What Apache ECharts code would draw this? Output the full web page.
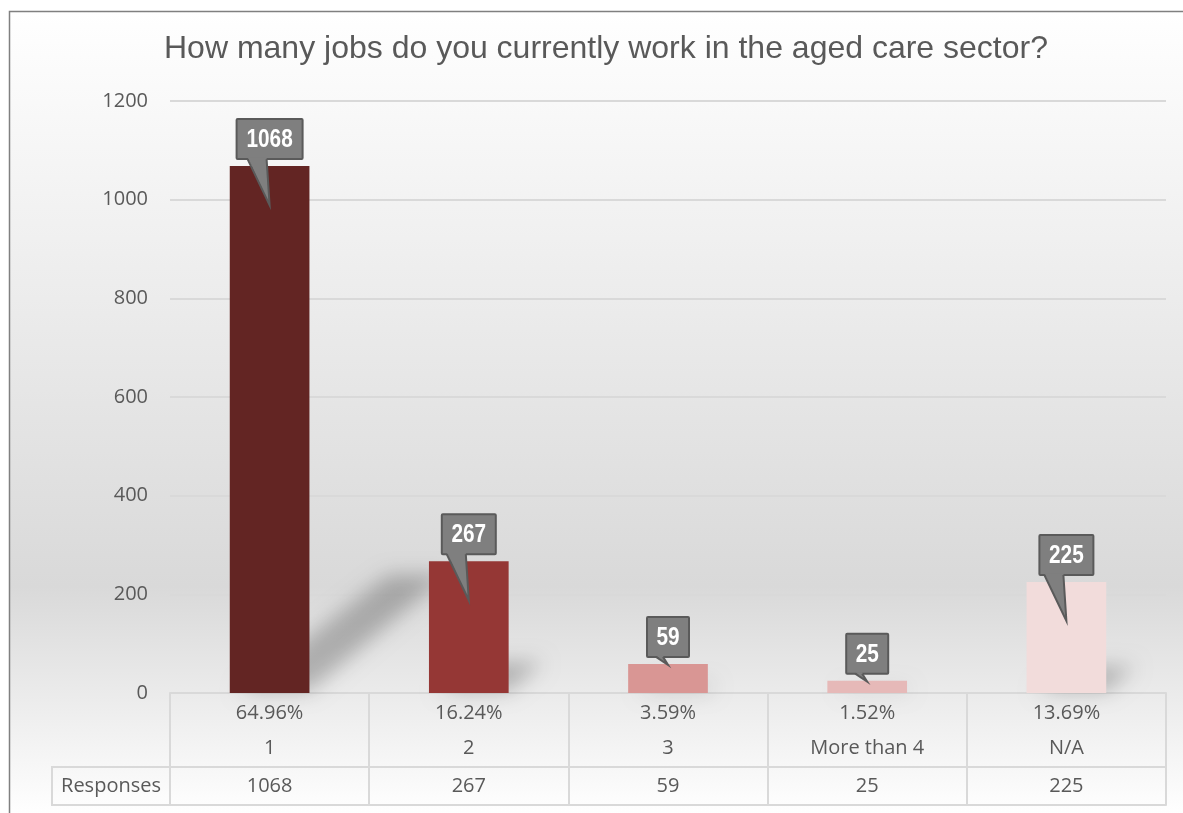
<!DOCTYPE html>
<html>
<head>
<meta charset="utf-8">
<script src="https://cdn.jsdelivr.net/npm/echarts@6/dist/echarts.min.js"></script>
<style>
html,body{margin:0;padding:0;background:#fff;}
#chart{width:1183px;height:813px;}
</style>
</head>
<body>
<div id="chart"></div>
<script>
// ---- data ----
const titleText = 'How many jobs do you currently work in the aged care sector?';
const categories = ['1', '2', '3', 'More than 4', 'N/A'];
const responses = [1068, 267, 59, 25, 225];
const percentLabels = ['64.96%', '16.24%', '3.59%', '1.52%', '13.69%'];
const rowLabel = 'Responses';
const yMin = 0, yMax = 1200, yInterval = 200;

// ---- styles ----
const barColors = ['#632523', '#953735', '#D99694', '#E6B9B8', '#F2DCDB'];
const textColor = '#595959';
const gridColor = '#d9d9d9';
const tableFont = '"Open Sans", "Noto Sans", sans-serif';
const calloutFont = 'bold 26px "Liberation Sans", Arial, sans-serif';

const chart = echarts.init(document.getElementById('chart'), null, {renderer: 'canvas'});

const OFF = 3000; // draw the shadow caster off-canvas, only its blurred shadow is visible
function shadowItem(params, api) {
  const idx = api.value(0), val = api.value(1);
  const top = api.coord([idx, val]);
  const base = api.coord([idx, 0]);
  const bw = api.size([1, 0])[0] * 0.4;
  const h = base[1] - top[1];
  const dx = h * 0.26, dy = h * 0.22;
  const x0 = top[0] - bw / 2 + 8, x1 = top[0] + bw / 2, y0 = base[1] - 2;
  return {
    type: 'polygon',
    shape: {points: [[x0 - OFF, y0], [x1 - OFF, y0], [x1 + dx - OFF, y0 - dy], [x0 + dx + 14 - OFF, y0 - dy]]},
    style: {
      fill: '#000',
      shadowBlur: 20,
      shadowOffsetX: OFF,
      shadowColor: 'rgba(0,0,0,0.24)'
    }
  };
}

function calloutItem(params, api) {
  const idx = api.value(0), val = api.value(1);
  const top = api.coord([idx, val]);
  const base = api.coord([idx, 0]);
  const h = base[1] - top[1];
  const cx = top[0];
  const label = String(val);
  const bwBox = 12 * label.length + 18;
  const bh = 40;
  const boxBottom = top[1] - 7;
  const boxTop = boxBottom - bh;
  const longTail = h > 60;
  const tipY = longTail ? top[1] + 39 : top[1] + 1;
  const bl = longTail ? cx - 22 : cx - 12;
  const br = longTail ? cx - 3 : cx - 5;
  return {
    type: 'group',
    children: [
      {
        type: 'rect',
        shape: {x: cx - bwBox / 2, y: boxTop, width: bwBox, height: bh, r: 1},
        style: {fill: '#7f7f7f', stroke: '#5a5a5a', lineWidth: 2}
      },
      {
        type: 'polygon',
        shape: {points: [[bl, boxBottom - 1.5], [br, boxBottom - 1.5], [cx, tipY]]},
        style: {fill: '#7f7f7f'}
      },
      {
        type: 'polyline',
        shape: {points: [[bl, boxBottom], [cx, tipY], [br, boxBottom]]},
        style: {fill: null, stroke: '#5a5a5a', lineWidth: 2}
      },
      {
        type: 'text',
        x: cx, y: boxTop + bh / 2 + 1,
        scaleX: 0.8,
        style: {
          text: label, x: 0, y: 0,
          align: 'center', verticalAlign: 'middle',
          fill: '#ffffff', font: calloutFont
        }
      }
    ]
  };
}

const option = {
  animation: false,
  backgroundColor: '#ffffff',
  title: {
    text: titleText,
    left: 601,
    textAlign: 'center',
    top: 28,
    textStyle: {color: textColor, fontSize: 32, fontWeight: 'normal', fontFamily: '"Liberation Sans", Arial, sans-serif'}
  },
  graphic: [
    {
      type: 'rect', z: -10, silent: true,
      shape: {x: 9.5, y: 11.5, width: 1200, height: 820},
      style: {
        fill: new echarts.graphic.LinearGradient(0, 0, 0, 1, [
          {offset: 0, color: '#ffffff'},
          {offset: 0.70, color: '#d9d9d9'},
          {offset: 0.98, color: '#ffffff'},
          {offset: 1, color: '#ffffff'}
        ]),
        stroke: '#808080', lineWidth: 1.5
      }
    },
    {
      type: 'rect', z: 5, silent: true,
      shape: {x: 52, y: 767, width: 118, height: 38},
      style: {fill: null, stroke: gridColor, lineWidth: 2}
    },
    {
      type: 'text', z: 5, silent: true,
      style: {text: rowLabel, x: 111, y: 786, align: 'center', verticalAlign: 'middle',
        fill: textColor, font: '20px ' + tableFont}
    }
  ],
  grid: {left: 170, right: 17, top: 101, bottom: 120, containLabel: false},
  xAxis: [
    {
      type: 'category', data: categories, position: 'bottom',
      axisLine: {show: true, lineStyle: {color: gridColor, width: 2}},
      axisTick: {show: true, interval: 0, length: 112, lineStyle: {color: gridColor, width: 2}},
      axisLabel: {
        interval: 0, margin: 3,
        formatter: (v, i) => '{p|' + percentLabels[i] + '}\n{c|' + v + '}',
        rich: {
          p: {fontSize: 20, lineHeight: 35, color: textColor, fontFamily: tableFont},
          c: {fontSize: 20, lineHeight: 35, color: textColor, fontFamily: tableFont}
        }
      }
    },
    {
      type: 'category', data: responses.map(String), position: 'bottom', offset: 74,
      axisLine: {show: true, lineStyle: {color: gridColor, width: 2}},
      axisTick: {show: false},
      axisLabel: {interval: 0, margin: 0, fontSize: 20, lineHeight: 38, color: textColor, fontFamily: tableFont}
    },
    {
      type: 'category', data: categories, position: 'bottom', offset: 112,
      axisLine: {show: true, lineStyle: {color: gridColor, width: 2}},
      axisTick: {show: false},
      axisLabel: {show: false}
    }
  ],
  yAxis: {
    type: 'value', min: yMin, max: yMax, interval: yInterval,
    axisLine: {show: false}, axisTick: {show: false},
    splitLine: {lineStyle: {color: gridColor, width: 2}},
    axisLabel: {margin: 22, fontSize: 20, color: textColor, fontFamily: tableFont, formatter: v => String(v)}
  },
  series: [
    {
      type: 'custom', z: 1, silent: true, clip: false,
      renderItem: shadowItem,
      encode: {x: 0, y: 1},
      data: responses.map((v, i) => [i, v])
    },
    {
      type: 'bar', z: 2, barWidth: '40%',
      data: responses.map((v, i) => ({value: v, itemStyle: {color: barColors[i]}}))
    },
    {
      type: 'custom', z: 3, silent: true,
      renderItem: calloutItem,
      encode: {x: 0, y: 1},
      data: responses.map((v, i) => [i, v])
    }
  ]
};
chart.setOption(option);
</script>
</body>
</html>
